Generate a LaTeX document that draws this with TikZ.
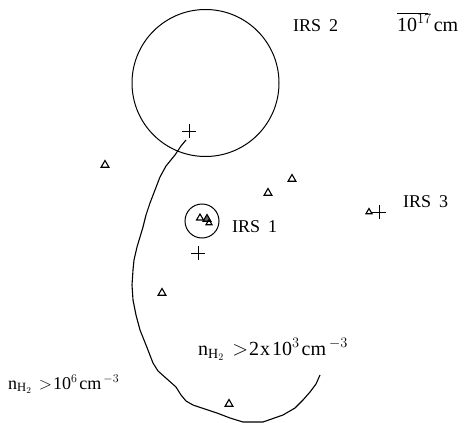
\documentclass[tikz,border=0pt]{standalone}
\usepackage{fontspec}
\setmainfont{Liberation Serif}
\usetikzlibrary{shapes.geometric}
\tikzset{
  tri/.style={regular polygon, regular polygon sides=3, draw, line width=1.1pt, minimum size=9pt, inner sep=0pt},
  lbl/.style={font=\fontsize{18}{20}\selectfont, inner sep=0pt, anchor=base west},
  dens/.style={font=\fontsize{18}{20}\selectfont, inner sep=0pt, anchor=base west},
  wdens/.style={font=\fontsize{20}{22}\selectfont, inner sep=0pt, anchor=base west},
  plus/.pic={\draw[line width=0.9pt] (-7,0) -- (7,0) (0,-7) -- (0,7);},
  ring/.style={circle, draw, line width=1pt, inner sep=0pt},
}
\begin{document}
\begin{tikzpicture}[x=1pt,y=-1pt]
\useasboundingbox (0,0) rectangle (474,423);
% circles
\node[ring, minimum size=147pt] (irs2c) at (205.5,83) {};
\node[ring, minimum size=34pt] (irs1c) at (202,221) {};
% labels
\node[lbl] (irs2) at (293,31) {IRS\hspace{8pt}2};
\node[lbl] (irs1) at (232,232) {IRS\hspace{8pt}1};
\node[lbl] (irs3) at (403,207) {IRS\hspace{8pt}3};
\node[wdens] (scale) at (397,31) {10$^{17}$\hspace{2pt}cm};
\coordinate (sb1) at (397,13);
\coordinate (sb2) at (428,13);
\draw[line width=0.9pt] (sb1) -- (sb2);
\node[wdens] (n1) at (198,355) {n$_{\mathrm{H}_2}$\hspace{8pt}$>$\hspace{1pt}2\hspace{1pt}x\hspace{2pt}10$^3$\hspace{2pt}cm\hspace{3pt}$^{-3}$};
\node[dens] (n2) at (8,389) {n$_{\mathrm{H}_2}$\hspace{7pt}$>$\hspace{1pt}10$^6$\hspace{2pt}cm\hspace{2pt}$^{-3}$};
% crosses
\pic at (189,131) {plus};
\pic at (198,253) {plus};
\pic at (379,212) {plus};
% triangles
\node[tri] (t1) at (105,165) {};
\node[tri] (t2) at (268,193) {};
\node[tri] (t3) at (292,179) {};
\node[tri] (t4) at (162,293) {};
\node[tri] (t5) at (229,404) {};
\node[tri, minimum size=7pt] (t6) at (369,212) {};
\node[tri, minimum size=8pt] (t7) at (200,218) {};
\node[tri, minimum size=9pt, fill=black!60] (t8) at (207,219) {};
\node[tri, minimum size=7pt] (t9) at (209,223) {};
% boundary curve
\coordinate (cstart) at (186,140);
\coordinate (cend) at (320,375);
\draw[line width=1.1pt, line join=round]
 (cstart) -- (181,146) -- (175,155) -- (166,166) -- (160,177) -- (155,190) -- (150,203)
 -- (146,215) -- (143,227) -- (137,247) -- (134,260) -- (133,270) -- (132,285) -- (133,300)
 -- (136,315) -- (140,330) -- (146,345) -- (153,363) -- (158,371) -- (167,379) -- (176,387)
 -- (181,395) -- (186,401) -- (193,405) -- (205,409) -- (217,413) -- (230,418) -- (243,422)
 -- (263,422) -- (283,415) -- (295,408) -- (303,400) -- (310,392) -- (316,384) -- (cend);
\end{tikzpicture}
\end{document}
